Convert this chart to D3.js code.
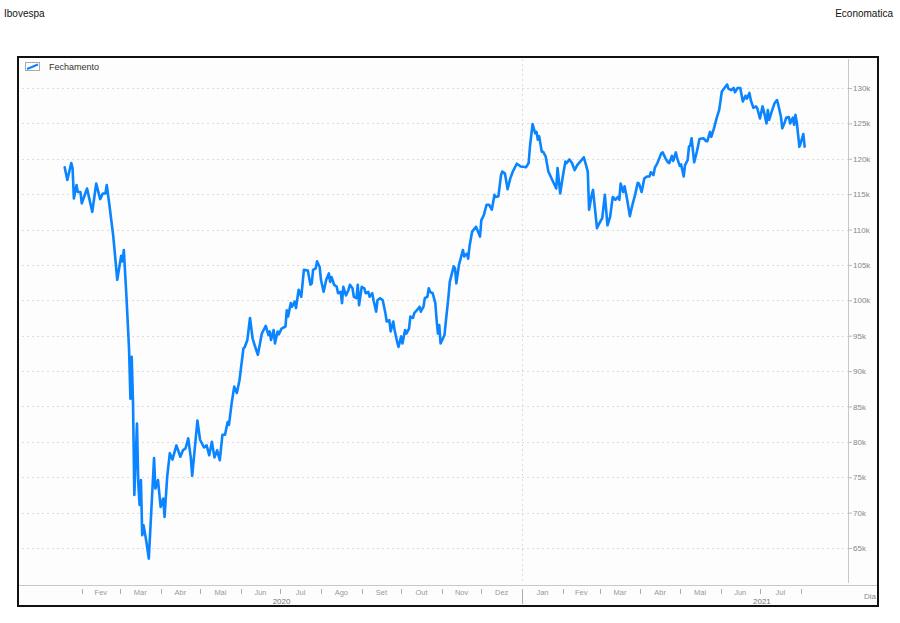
<!DOCTYPE html>
<html><head><meta charset="utf-8">
<script src="https://cdn.jsdelivr.net/npm/d3@7"></script>
<style>
html,body{margin:0;padding:0;background:#fff;}
svg{display:block;font-family:"Liberation Sans",Arial,sans-serif;}
</style></head>
<body><svg id="c" width="900" height="623"></svg>
<script>
const title = "Ibovespa";
const source = "Economatica";
const seriesName = "Fechamento";
const axisUnit = "Dia";
const monthLabels = ["Jan","Fev","Mar","Abr","Mai","Jun","Jul","Ago","Set","Out","Nov","Dez"];
const yTicks = [65000,70000,75000,80000,85000,90000,95000,100000,105000,110000,115000,120000,125000,130000];

const dates = [
"2020-01-19","2020-01-21","2020-01-24","2020-01-25","2020-01-26","2020-01-28","2020-01-29","2020-01-31","2020-02-01","2020-02-05",
"2020-02-09","2020-02-12","2020-02-15","2020-02-17","2020-02-19","2020-02-20","2020-02-22","2020-02-25","2020-02-28","2020-03-02",
"2020-03-03","2020-03-04","2020-03-06","2020-03-08","2020-03-09","2020-03-10","2020-03-11","2020-03-12","2020-03-14","2020-03-15",
"2020-03-16","2020-03-17","2020-03-18","2020-03-19","2020-03-21","2020-03-23","2020-03-27","2020-03-28","2020-03-30","2020-04-01",
"2020-04-03","2020-04-04","2020-04-06","2020-04-08","2020-04-10","2020-04-13","2020-04-16","2020-04-18","2020-04-20","2020-04-22",
"2020-04-24","2020-04-25","2020-04-29","2020-05-01","2020-05-04","2020-05-06","2020-05-08","2020-05-10","2020-05-12","2020-05-14",
"2020-05-16","2020-05-18","2020-05-20","2020-05-22","2020-05-23","2020-05-25","2020-05-27","2020-05-29","2020-05-31","2020-06-03",
"2020-06-04","2020-06-06","2020-06-08","2020-06-10","2020-06-12","2020-06-14","2020-06-17","2020-06-20","2020-06-22","2020-06-23",
"2020-06-24","2020-06-26","2020-06-27","2020-06-29","2020-06-30","2020-07-02","2020-07-05","2020-07-06","2020-07-07","2020-07-09",
"2020-07-10","2020-07-12","2020-07-13","2020-07-15","2020-07-17","2020-07-19","2020-07-22","2020-07-24","2020-07-25","2020-07-26",
"2020-07-28","2020-07-29","2020-07-31","2020-08-01","2020-08-03","2020-08-05","2020-08-07","2020-08-08","2020-08-09","2020-08-11",
"2020-08-13","2020-08-14","2020-08-16","2020-08-17","2020-08-18","2020-08-20","2020-08-22","2020-08-23","2020-08-25","2020-08-26",
"2020-08-28","2020-08-29","2020-08-30","2020-09-01","2020-09-03","2020-09-04","2020-09-06","2020-09-07","2020-09-09","2020-09-10",
"2020-09-12","2020-09-13","2020-09-15","2020-09-17","2020-09-19","2020-09-20","2020-09-22","2020-09-23","2020-09-25","2020-09-26",
"2020-09-28","2020-09-29","2020-10-01","2020-10-02","2020-10-04","2020-10-05","2020-10-07","2020-10-08","2020-10-10","2020-10-11",
"2020-10-13","2020-10-15","2020-10-16","2020-10-18","2020-10-19","2020-10-21","2020-10-22","2020-10-23","2020-10-25","2020-10-27",
"2020-10-28","2020-10-29","2020-10-30","2020-10-31","2020-11-03","2020-11-04","2020-11-06","2020-11-07","2020-11-10","2020-11-11",
"2020-11-12","2020-11-14","2020-11-17","2020-11-18","2020-11-20","2020-11-21","2020-11-22","2020-11-24","2020-11-27","2020-11-30",
"2020-12-01","2020-12-03","2020-12-05","2020-12-07","2020-12-09","2020-12-11","2020-12-12","2020-12-14","2020-12-16","2020-12-17",
"2020-12-19","2020-12-21","2020-12-23","2020-12-25","2020-12-28","2020-12-31","2021-01-04","2021-01-06","2021-01-07","2021-01-09",
"2021-01-11","2021-01-12","2021-01-13","2021-01-14","2021-01-16","2021-01-17","2021-01-19","2021-01-21","2021-01-24","2021-01-27",
"2021-01-28","2021-01-30","2021-02-01","2021-02-03","2021-02-04","2021-02-06","2021-02-08","2021-02-10","2021-02-12","2021-02-17",
"2021-02-19","2021-02-20","2021-02-21","2021-02-23","2021-02-24","2021-02-27","2021-02-28","2021-03-02","2021-03-03","2021-03-05",
"2021-03-07","2021-03-09","2021-03-11","2021-03-13","2021-03-15","2021-03-16","2021-03-17","2021-03-19","2021-03-20","2021-03-22",
"2021-03-24","2021-03-26","2021-03-28","2021-03-30","2021-03-31","2021-04-02","2021-04-04","2021-04-06","2021-04-08","2021-04-09",
"2021-04-11","2021-04-12","2021-04-14","2021-04-17","2021-04-18","2021-04-20","2021-04-22","2021-04-23","2021-04-25","2021-04-26",
"2021-04-28","2021-04-29","2021-05-01","2021-05-02","2021-05-04","2021-05-05","2021-05-07","2021-05-08","2021-05-09","2021-05-10",
"2021-05-12","2021-05-14","2021-05-16","2021-05-19","2021-05-21","2021-05-22","2021-05-24","2021-05-25","2021-05-27","2021-05-29",
"2021-05-31","2021-06-02","2021-06-04","2021-06-06","2021-06-07","2021-06-09","2021-06-11","2021-06-12","2021-06-14","2021-06-16",
"2021-06-18","2021-06-20","2021-06-21","2021-06-23","2021-06-24","2021-06-26","2021-06-28","2021-06-29","2021-07-01","2021-07-03",
"2021-07-04","2021-07-06","2021-07-07","2021-07-08","2021-07-10","2021-07-12","2021-07-14","2021-07-15","2021-07-17","2021-07-18",
"2021-07-20","2021-07-21","2021-07-23","2021-07-24","2021-07-26","2021-07-27","2021-07-28","2021-07-29","2021-07-31","2021-08-01",
"2021-08-03","2021-08-04"
];
const closes = [
118800,117000,119400,118700,114400,116300,115300,115300,113700,115800,
112500,116500,114300,115100,115100,116300,113500,109000,102900,106300,
105500,107100,100500,93000,86100,92000,85400,72500,82600,74100,
71100,74600,66800,68200,66100,63500,77700,73400,74600,70800,
72000,69400,75100,78400,77500,79500,77900,78800,79100,80500,
77700,75200,83000,80300,79200,79500,78100,80000,77800,78800,
77400,81000,81000,82800,82400,85400,87800,86900,88700,93200,
93400,94400,97500,94600,93400,92300,95300,96400,95100,95600,
94400,95800,93900,95600,95200,96000,96300,98600,97700,99600,
99100,99800,98900,101500,100500,104300,104200,102200,102400,104300,
104500,105500,104700,102900,101200,102900,103800,102600,103300,102200,
101900,101000,101200,99600,101900,100700,101500,102200,101700,100500,
100300,102200,99300,101900,101700,101000,101200,100500,101000,100000,
98400,100000,100300,100000,98200,97000,97200,95600,97000,95800,
94100,93400,94900,93900,95800,95300,96000,97700,97500,98200,
98600,99100,98400,99100,100300,100500,101700,101200,101000,99600,
97200,95300,96500,93900,95100,97000,100500,102600,104800,104500,
102400,105000,107100,106200,106600,105900,107600,109700,110400,109000,
111300,112100,113500,113500,112800,114900,114600,114700,117700,118200,
117900,115700,117200,118200,119300,118900,118800,119400,121700,124900,
123600,123800,122700,123200,121000,121000,120300,118200,117000,115800,
118700,115100,117500,119600,119400,119900,119400,118400,119100,120200,
118900,118200,112800,114900,115600,110200,110600,111300,111600,114900,
110600,111800,114600,114200,114600,114200,116500,115300,116100,114200,
111900,113500,114900,116600,116500,115300,117200,117500,117500,118100,
117700,118700,119400,120800,120900,120100,119500,119400,120400,119700,
120900,120100,119000,119200,117500,119100,119800,121700,121900,122900,
119500,121000,122800,122900,122500,122500,123800,123100,124300,125700,
126900,129500,130000,130500,129900,129700,130000,129400,130000,130000,
128100,128900,128500,129300,128300,127200,127400,127100,125700,127400,
126700,125000,126900,125500,126700,127800,128300,127600,125900,124300,
125200,125800,125900,125000,125800,124800,126200,125200,121700,122200,
123500,121700
];

const parse = d3.timeParse("%Y-%m-%d");
const data = dates.map((d,i)=>({date:parse(d), value:closes[i]}));

const svg = d3.select("#c");
const frame = {x0:18, y0:57, x1:878, y1:606};
const plot = {left:20, right:848, top:59, bottom:584};

// titles
svg.append("text").attr("x",4).attr("y",17).attr("font-size",10).attr("fill","#111").text(title);
svg.append("text").attr("x",893).attr("y",17).attr("text-anchor","end").attr("font-size",10).attr("fill","#111").text(source);

// frame
svg.append("rect").attr("x",frame.x0).attr("y",frame.y0).attr("width",frame.x1-frame.x0).attr("height",frame.y1-frame.y0)
  .attr("fill","#fdfdfd").attr("stroke","#111").attr("stroke-width",2);

const x = d3.scaleTime().domain([parse("2019-12-16"), parse("2021-09-06")]).range([plot.left, plot.right]);
const y = d3.scaleLinear().domain([65000,130000]).range([548,88]);

// grid
svg.append("g").selectAll("line").data(yTicks).join("line")
  .attr("x1",plot.left+2).attr("x2",plot.right).attr("y1",d=>Math.round(y(d))+0.5).attr("y2",d=>Math.round(y(d))+0.5)
  .attr("stroke","#dcdcdc").attr("stroke-width",1).attr("stroke-dasharray","2,3");
const yearStart = parse("2021-01-01");
svg.append("line").attr("x1",Math.round(x(yearStart))+0.5).attr("x2",Math.round(x(yearStart))+0.5)
  .attr("y1",plot.top).attr("y2",plot.bottom).attr("stroke","#dcdcdc").attr("stroke-dasharray","2,3");

// axes lines
svg.append("line").attr("x1",plot.right+0.5).attr("x2",plot.right+0.5).attr("y1",plot.top).attr("y2",plot.bottom-1)
  .attr("stroke","#c8c8c8");
svg.append("line").attr("x1",frame.x0+1).attr("x2",frame.x1-1).attr("y1",plot.bottom+1.5).attr("y2",plot.bottom+1.5)
  .attr("stroke","#c8c8c8");

// y axis ticks & labels
const yAxis = d3.axisRight(y).tickValues(yTicks).tickSize(4).tickPadding(1).tickFormat(d=>(d/1000)+"k");
const gy = svg.append("g").attr("transform",`translate(${plot.right},0)`).call(yAxis);
gy.select(".domain").remove();
gy.selectAll(".tick line").attr("stroke","#bbb");
gy.selectAll(".tick text").attr("fill","#888").attr("font-size",8).attr("font-family","Liberation Sans, Arial, sans-serif");

// x axis: month ticks at boundaries, labels at mid-month
const months = d3.timeMonth.range(parse("2020-02-01"), parse("2021-08-02"));
const gx = svg.append("g");
months.forEach(m=>{
  const xm = Math.round(x(m))+0.5;
  const isYear = m.getMonth()===0;
  gx.append("line").attr("x1",xm).attr("x2",xm)
    .attr("y1",isYear?589:589).attr("y2",isYear?604:594).attr("stroke","#aaa");
});
const labelMonths = d3.timeMonth.range(parse("2020-02-01"), parse("2021-08-01"));
labelMonths.forEach(m=>{
  const mid = new Date((+m + +d3.timeMonth.offset(m,1))/2);
  gx.append("text").attr("x",x(mid)).attr("y",595).attr("text-anchor","middle")
    .attr("font-size",7.5).attr("fill","#999").text(monthLabels[m.getMonth()]);
});
[2020,2021].forEach(yr=>{
  const a = new Date(yr,0,1), b = new Date(yr+1,0,1);
  gx.append("text").attr("x",(x(a)+x(b))/2).attr("y",604).attr("text-anchor","middle")
    .attr("font-size",8).attr("fill","#777").text(String(yr));
});
svg.append("text").attr("x",876).attr("y",599).attr("text-anchor","end").attr("font-size",8).attr("fill","#888").text(axisUnit);

// line
const line = d3.line().x(d=>x(d.date)).y(d=>y(d.value));
svg.append("path").datum(data).attr("d",line).attr("fill","none")
  .attr("stroke","#0a84ff").attr("stroke-width",2.6).attr("stroke-linejoin","round").attr("stroke-linecap","round");

// legend
const lg = svg.append("g");
lg.append("rect").attr("x",25.5).attr("y",62.5).attr("width",14).attr("height",8).attr("fill","#fff").attr("stroke","#aaa");
lg.append("line").attr("x1",27).attr("y1",69).attr("x2",38).attr("y2",64.5).attr("stroke","#0a84ff").attr("stroke-width",2);
lg.append("text").attr("x",49).attr("y",70).attr("font-size",9).attr("fill","#333").text(seriesName);
</script>
</body></html>
